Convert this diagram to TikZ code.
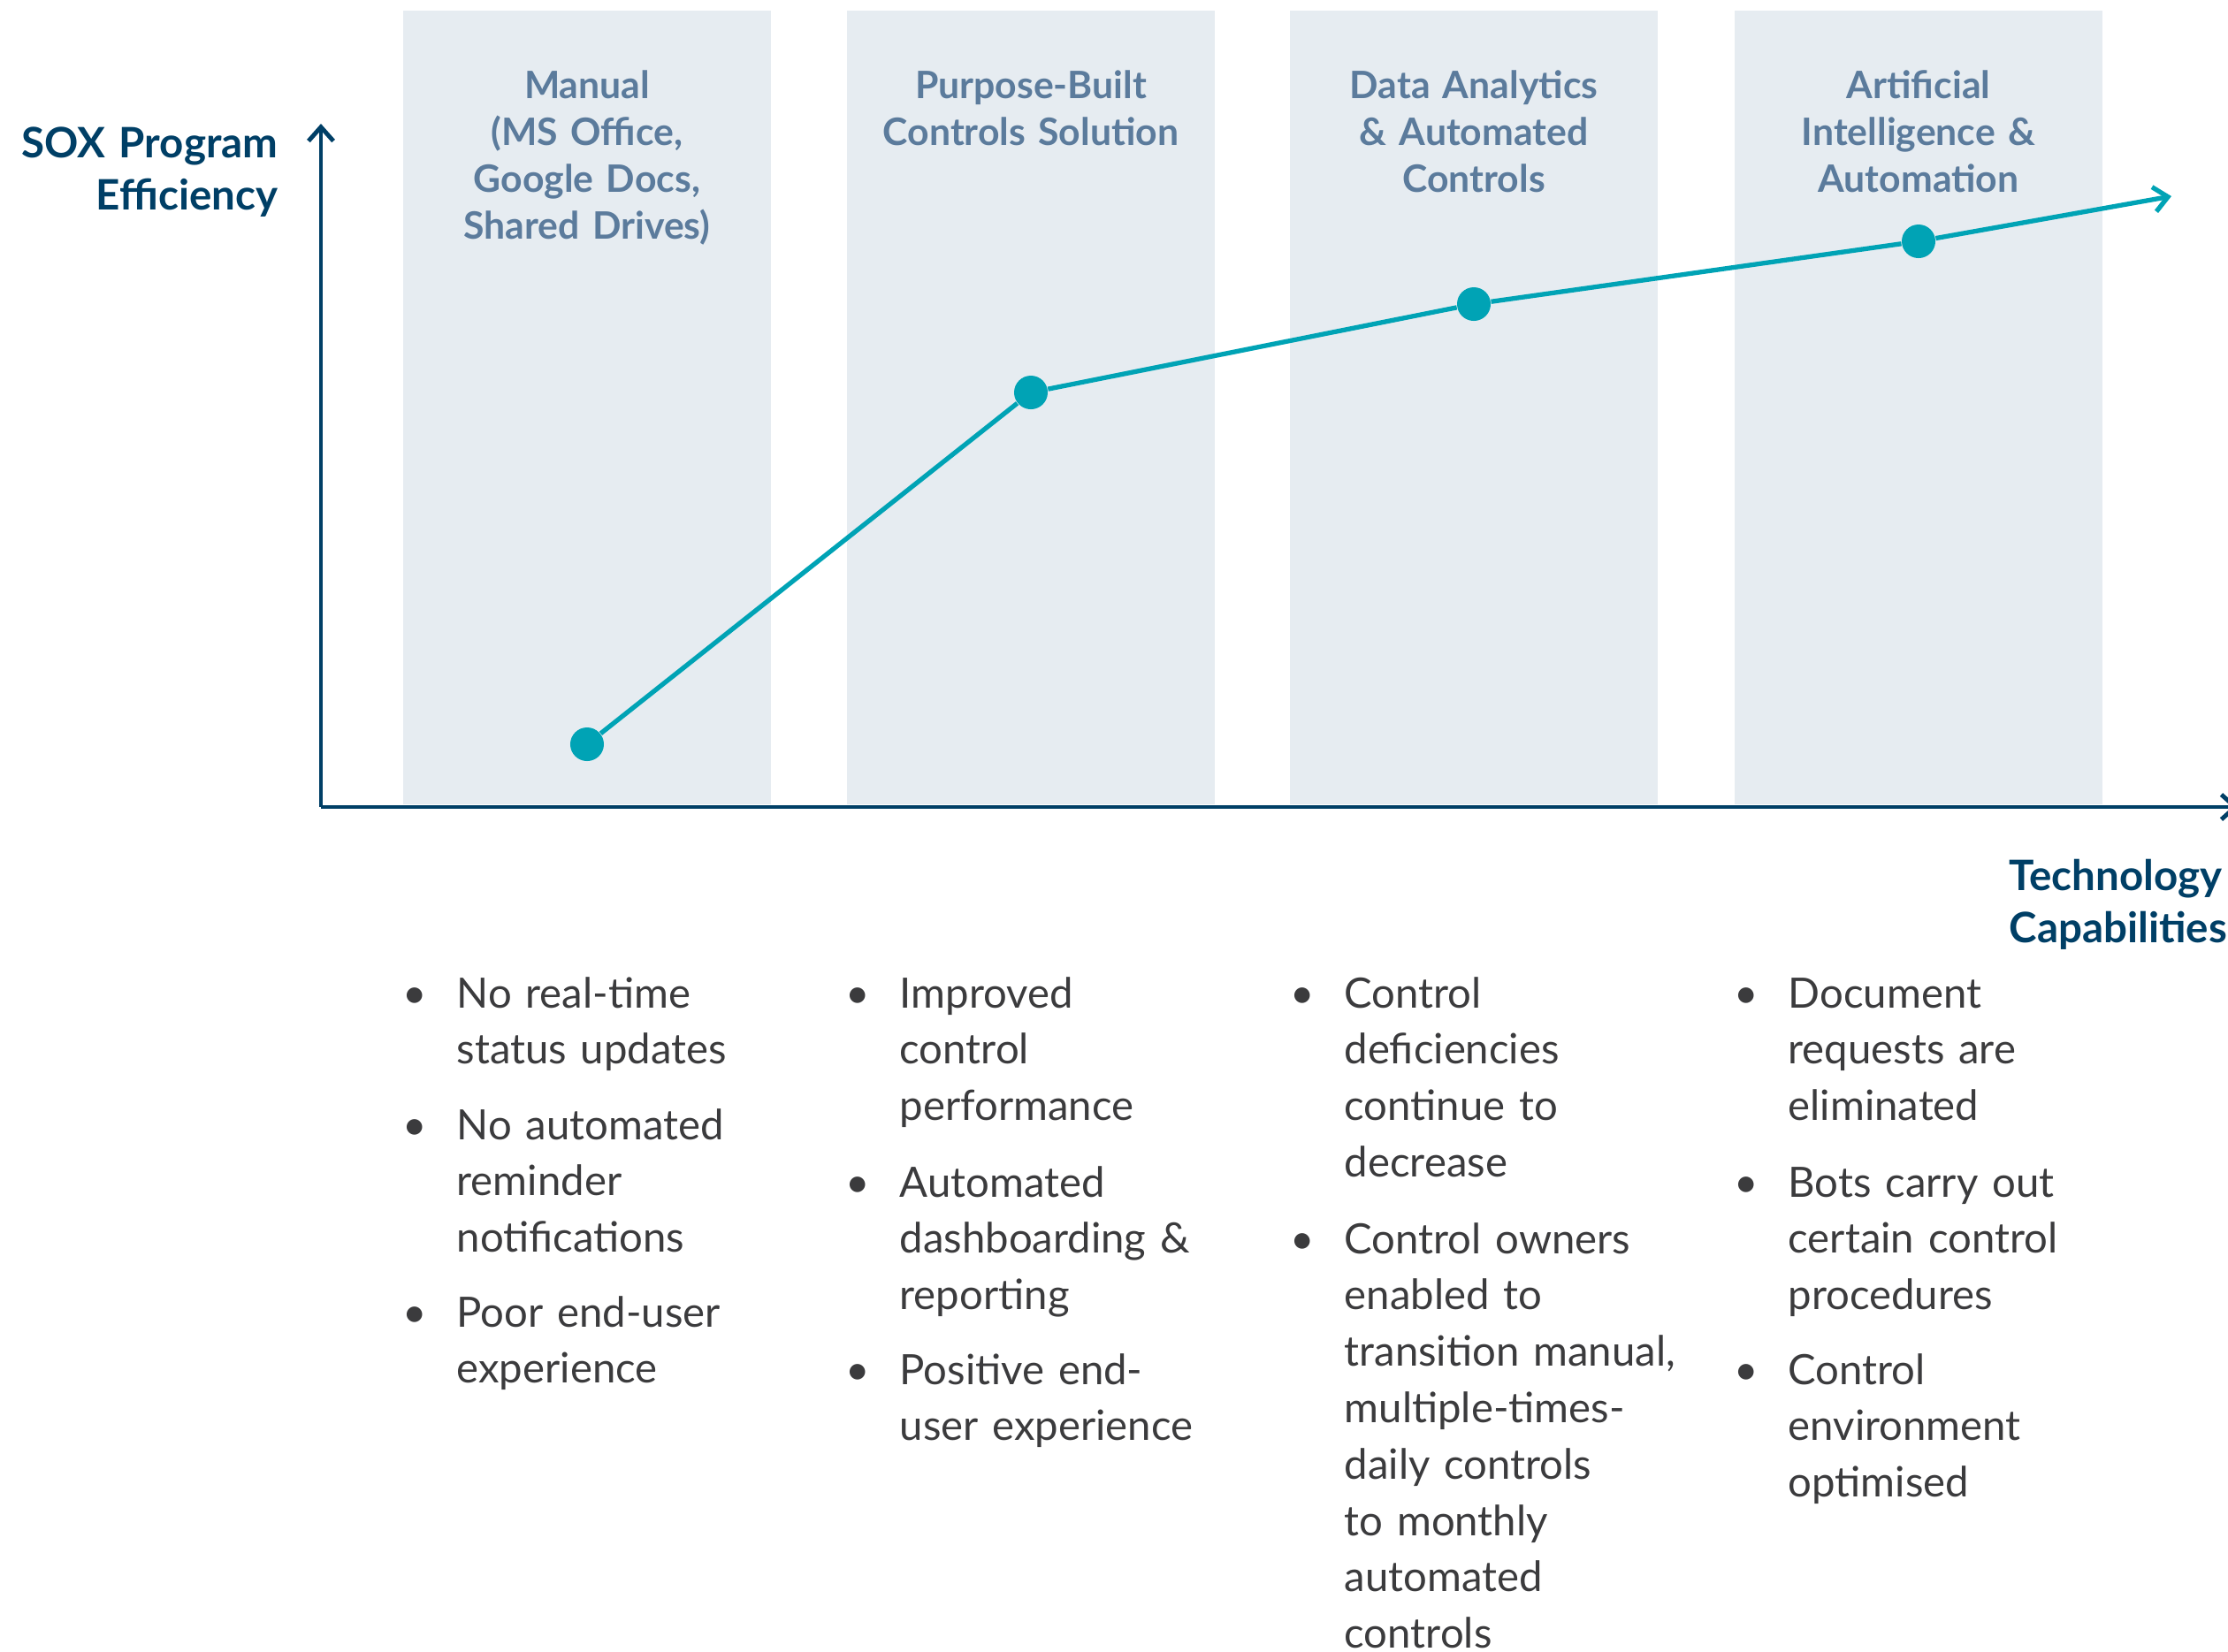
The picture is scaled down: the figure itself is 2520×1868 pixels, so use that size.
\documentclass[tikz,border=0pt]{standalone}
\usepackage{fontspec}
\setmainfont{Lato}
\usepackage{xcolor}
\usetikzlibrary{arrows.meta,positioning}
\definecolor{navy}{HTML}{003F66}
\definecolor{slate}{HTML}{5B7B9C}
\definecolor{panelgray}{HTML}{E6ECF1}
\definecolor{sea}{HTML}{00A3B5}
\definecolor{ink}{HTML}{3B3B3D}
\tikzset{
  colbox/.style={fill=panelgray, minimum width=4.16cm, minimum height=8.98cm, inner sep=0},
  head/.style={anchor=base, inner sep=0, text width=4.16cm, align=center, text=slate,
    font=\fontsize{12.15}{15.1}\selectfont\bfseries},
  axlabel/.style={inner sep=0, text width=3.2cm, text=navy,
    font=\fontsize{13.5}{16.8}\selectfont\bfseries},
  axis/.style={draw=navy, line width=1.4pt, -{Straight Barb[length=4.5pt,width=8pt]}},
  trend/.style={draw=sea, line width=1.5pt},
  dot/.style={circle, fill=sea, inner sep=0, minimum size=0.38cm},
  item/.style={anchor=base west, inner sep=0, text width=4.3cm, align=left, text=ink,
    font=\fontsize{13.45}{18.15}\selectfont}
}
\newcommand{\bul}{\llap{\textbullet\hspace{9.5pt}}}

\begin{document}
\begin{tikzpicture}[x=0.01cm, y=-0.01cm]
  \useasboundingbox (0,0) rectangle (2520,1868);
  \node[colbox] (c1) at (664,461) {};
  \node[colbox] (c2) at (1166,461) {};
  \node[colbox] (c3) at (1667,461) {};
  \node[colbox] (c4) at (2170,461) {};
  \node[head] (h1) at (664,111) {Manual\\(MS Office,\\Google Docs,\\Shared Drives)};
  \node[head] (h2) at (1166,111) {Purpose-Built\\Controls Solution};
  \node[head] (h3) at (1667,111) {Data Analytics\\\& Automated\\Controls};
  \node[head] (h4) at (2170,111) {Artificial\\Intelligence \&\\Automation};
  \coordinate (o) at (363,913);
  \coordinate (ytop) at (363,140);
  \coordinate (xend) at (2532,913);
  \draw[axis] (o) -- (ytop);
  \draw[axis] (o) -- (xend);
  \node[axlabel, anchor=base east, align=right] (ylab) at (315,178) {SOX Program\\Efficiency};
  \node[axlabel, anchor=base west, align=left] (xlab) at (2272,1007) {Technology\\Capabilities};
  \node[dot] (d1) at (664,842) {};
  \node[dot] (d2) at (1166,444) {};
  \node[dot] (d3) at (1667,344) {};
  \node[dot] (d4) at (2170,273) {};
  \coordinate (tip) at (2456,222);
  \draw[trend] (d1) -- (d2) -- (d3) -- (d4);
  \draw[trend, -{Straight Barb[length=4.5pt,width=8pt]}] (d4) -- (tip);
  \node[item] (a1) at (516,1140) {\bul No real-time\\status updates};
  \node[item] (a2) at (516,1289) {\bul No automated\\reminder\\notifications};
  \node[item] (a3) at (516,1501) {\bul Poor end-user\\experience};
  \node[item] (b1) at (1017,1140) {\bul Improved\\control\\performance};
  \node[item] (b2) at (1017,1354) {\bul Automated\\dashboarding \&\\reporting};
  \node[item] (b3) at (1017,1566) {\bul Positive end-\\user experience};
  \node[item] (e1) at (1520,1140) {\bul Control\\deficiencies\\continue to\\decrease};
  \node[item] (e2) at (1520,1418) {\bul Control owners\\enabled to\\transition manual,\\multiple-times-\\daily controls\\to monthly\\automated\\controls};
  \node[item] (f1) at (2022,1140) {\bul Document\\requests are\\eliminated};
  \node[item] (f2) at (2022,1354) {\bul Bots carry out\\certain control\\procedures};
  \node[item] (f3) at (2022,1566) {\bul Control\\environment\\optimised};
\end{tikzpicture}
\end{document}
